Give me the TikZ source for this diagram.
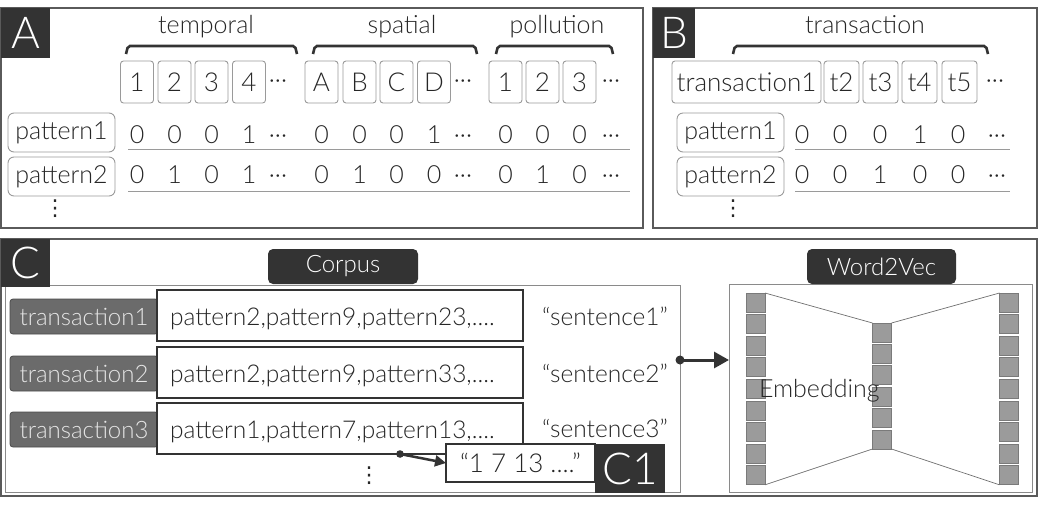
\documentclass[tikz,border=0pt]{standalone}
\usepackage{fontspec}
\setmainfont{Lato Light}
\newfontfamily\djv{DejaVu Sans}
\usetikzlibrary{arrows.meta}
\definecolor{ink}{HTML}{333333}
\definecolor{txt}{HTML}{262626}
\definecolor{pan}{HTML}{5A5A5A}
\definecolor{cellb}{HTML}{9A9A9A}
\definecolor{tlabf}{HTML}{6B6B6B}
\definecolor{tlabd}{HTML}{4A4A4A}
\definecolor{tlabt}{HTML}{E6E6E6}
\definecolor{sqf}{HTML}{9B9B9B}
\definecolor{sqd}{HTML}{7A7A7A}
\definecolor{frm}{HTML}{8A8A8A}
\newcommand\myfs[1]{\fontsize{#1}{#1}\selectfont}
\begin{document}
\begin{tikzpicture}[x=1pt,y=-1pt,
  every node/.style={inner sep=0pt,outer sep=0pt,text=txt},
  panel/.style={draw=pan,line width=1.5pt,anchor=north west},
  biglab/.style={fill=ink,text=white,font=\myfs{44},anchor=north west},
  hdr/.style={font=\myfs{25},anchor=base},
  brc/.style={draw=ink,line width=2.6pt,rounded corners=2pt},
  cell/.style={draw=cellb,line width=0.9pt,rounded corners=3pt,minimum height=42pt,minimum width=33pt,font=\myfs{26}},
  patbox/.style={draw=cellb,line width=0.9pt,rounded corners=6pt,minimum height=39pt,minimum width=107pt,font=\myfs{25}},
  val/.style={font=\myfs{25},anchor=base},
  vd/.style={font=\djv\fontsize{22}{22}\selectfont,text=txt},
  uline/.style={draw=cellb,line width=1pt},
  fr/.style={draw=frm,line width=1pt,anchor=north west},
  toplab/.style={fill=ink,text=white,rounded corners=5pt,font=\myfs{24}},
  tlab/.style={fill=tlabf,draw=tlabd,line width=0.8pt,rounded corners=3pt,minimum width=148pt,minimum height=35pt,text=tlabt,font=\myfs{24},text height=17pt,text depth=0pt},
  tbox/.style={draw=ink,line width=1.2pt,fill=white,minimum height=51pt,text width=340pt,inner xsep=13pt,align=left,font=\myfs{24.5},text height=19pt,text depth=0pt},
  sent/.style={font=\myfs{24.5},anchor=base},
  sq/.style={fill=sqf,draw=sqd,line width=0.8pt,minimum size=19pt},
  thinl/.style={draw=ink!70,line width=0.7pt},
  conn/.style={draw=ink,line width=2.5pt,-{Triangle[length=11pt,width=11pt]}},
  conn2/.style={draw=ink,line width=3pt,-{Triangle[length=15pt,width=16pt]}}
]
\useasboundingbox (0,0) rectangle (1048,504);

% ---------- Panel A ----------
\node[panel,minimum width=642pt,minimum height=220pt] (pA) at (1,8) {};
\node[biglab,minimum width=49pt,minimum height=50pt] (lA) at (1,8) {A};
\node[hdr] (hT) at (206,33) {temporal};
\node[hdr] (hS) at (402,33) {spatial};
\node[hdr] (hP) at (557,33) {pollution};
\draw[brc] (126,54) -- (128,46) -- (295,46) -- (297,54);
\draw[brc] (313,54) -- (315,46) -- (475,46) -- (477,54);
\draw[brc] (496,54) -- (498,46) -- (611,46) -- (613,54);
\foreach \x/\t [count=\i] in {137/1,174.5/2,211.5/3,249/4}
  \node[cell] (ta\i) at (\x,82) {\t};
\node[val] (tadots) at (278,88) {···};
\foreach \x/\t [count=\i] in {321.5/A,359.5/B,396.5/C,434/D}
  \node[cell] (sa\i) at (\x,82) {\t};
\node[val] (sadots) at (463,88) {···};
\foreach \x/\t [count=\i] in {505.5/1,542.5/2,579.5/3}
  \node[cell] (pa\i) at (\x,82) {\t};
\node[val] (padots) at (611,88) {···};
\node[patbox] (ap1) at (61.5,132.5) {pattern1};
\node[patbox] (ap2) at (61.5,176.5) {pattern2};
\node[vd] (avd) at (55,209) {⋮};
\foreach \x/\v [count=\i] in {137/0,174.5/0,211.5/0,249/1,278/···,321.5/0,359.5/0,396.5/0,434/1,463/···,505.5/0,542.5/0,579.5/0,611/···}
  \node[val] (ar1-\i) at (\x,143) {\v};
\foreach \x/\v [count=\i] in {137/0,174.5/1,211.5/0,249/1,278/···,321.5/0,359.5/1,396.5/0,434/0,463/···,505.5/0,542.5/1,579.5/0,611/···}
  \node[val] (ar2-\i) at (\x,183) {\v};
\draw[uline] (128,149) -- (630,149);
\draw[uline] (128,191) -- (630,191);

% ---------- Panel B ----------
\node[panel,minimum width=384pt,minimum height=220pt] (pB) at (653,8) {};
\node[biglab,minimum width=42pt,minimum height=50pt] (lB) at (653,8) {B};
\node[hdr] (hX) at (865,33) {transaction};
\draw[brc] (733,54) -- (735,46) -- (986,46) -- (988,54);
\node[cell,minimum width=149pt] (tb1) at (746.5,82) {transaction1};
\foreach \x/\t [count=\i from 2] in {841.5/t2,880.5/t3,919.5/t4,959.5/t5}
  \node[cell,minimum width=35pt] (tb\i) at (\x,82) {\t};
\node[val] (tbdots) at (995,88) {···};
\node[patbox] (bp1) at (730.5,132.5) {pattern1};
\node[patbox] (bp2) at (730.5,176.5) {pattern2};
\node[vd] (bvd) at (733,209) {⋮};
\foreach \x/\v [count=\i] in {802/0,840/0,880/0,920/1,958/0,997/···}
  \node[val] (br1-\i) at (\x,143) {\v};
\foreach \x/\v [count=\i] in {802/0,840/0,880/1,920/0,958/0,997/···}
  \node[val] (br2-\i) at (\x,183) {\v};
\draw[uline] (795,149) -- (1010,149);
\draw[uline] (795,191) -- (1010,191);

% ---------- Panel C ----------
\node[panel,minimum width=1036pt,minimum height=257pt] (pC) at (1,239) {};
\node[fr,minimum width=675pt,minimum height=207pt] (corpus) at (5,285) {};
\node[fr,minimum width=303pt,minimum height=208pt] (w2v) at (729,284) {};
\node[biglab,minimum width=49pt,minimum height=48pt] (lC) at (1,239) {C};
\node[toplab,minimum width=150pt,minimum height=35pt] (corpuslab) at (343,266.5) {Corpus};
\node[toplab,minimum width=149pt,minimum height=35pt] (w2vlab) at (881.5,266.5) {Word2Vec};

\foreach \i/\y in {1/316.5,2/373.5,3/429.5}
  \node[tlab] (t\i) at (84,\y) {transaction\i};
\node[tbox] (s1) at (340,315.5) {pattern2,pattern9,pattern23,....};
\node[tbox] (s2) at (340,372.5) {pattern2,pattern9,pattern33,....};
\node[tbox] (s3) at (340,428.5) {pattern1,pattern7,pattern13,....};
\node[sent] (q1) at (605,325) {“sentence1”};
\node[sent] (q2) at (605,382) {“sentence2”};
\node[sent] (q3) at (605,437) {“sentence3”};
\node[vd] (cvd) at (369,476) {⋮};

\node[draw=ink,fill=white,line width=1.2pt,minimum width=149pt,minimum height=38pt,font=\myfs{26},text height=18pt,text depth=0pt] (c1box) at (520.5,463) {“1 7 13 ....”};
\node[biglab,minimum width=70pt,minimum height=49pt] (lC1) at (595,444) {C1};

\draw[conn] ([xshift=60pt]s3.south) -- (c1box.west);
\fill[ink] ([xshift=60pt]s3.south) circle (3.8pt);

% Word2Vec network
\foreach \i in {1,...,9}
  \node[sq] (L\i) at (755.5,{302.5+21.6*(\i-1)}) {};
\foreach \i in {1,...,6}
  \node[sq] (M\i) at (882,{332.5+21.4*(\i-1)}) {};
\foreach \i in {1,...,9}
  \node[sq] (R\i) at (1009,{302.5+21.6*(\i-1)}) {};
\draw[thinl] (L1.north east) -- (M1.north west);
\draw[thinl] (L9.south east) -- (M6.south west);
\draw[thinl] (M1.north east) -- (R1.north west);
\draw[thinl] (M6.south east) -- (R9.south west);
\node[font=\myfs{25},anchor=base west] (emb) at (759,397) {Embedding};

\draw[conn2] ([yshift=28.5pt]corpus.east) -- ([yshift=28pt]w2v.west);
\fill[ink] ([yshift=28.5pt]corpus.east) circle (4.5pt);
\end{tikzpicture}
\end{document}
